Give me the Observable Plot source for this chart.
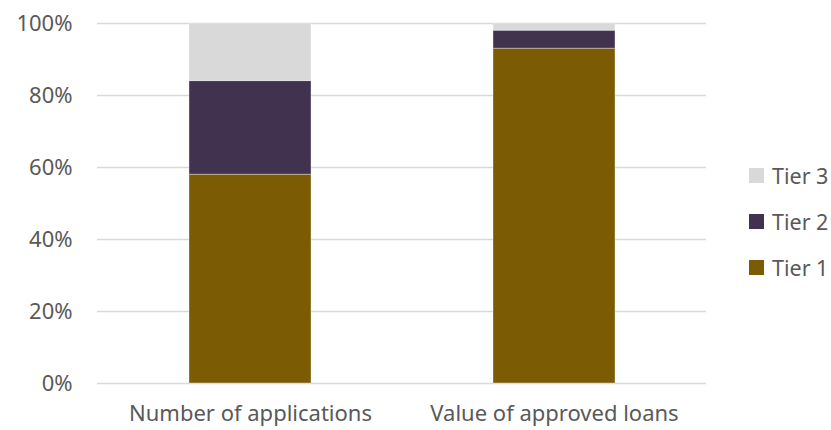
<!DOCTYPE html>
<html>
<head>
<meta charset="utf-8">
<script src="https://cdn.jsdelivr.net/npm/d3@7"></script>
<script src="https://cdn.jsdelivr.net/npm/@observablehq/plot@0.6"></script>
<style>
  html, body { margin: 0; padding: 0; background: #fff; }
  #wrap { position: relative; width: 831px; height: 430px; font-family: "Noto Sans", "Open Sans", sans-serif; }
  #legend { position: absolute; left: 749px; top: 152px; }
  .item { display: flex; align-items: center; height: 46px; font-size: 21.5px; color: #595959; }
  .sw { width: 15px; height: 15px; margin-right: 8px; }
</style>
</head>
<body>
<div id="wrap"></div>
<script>
const categories = ["Number of applications", "Value of approved loans"];
const tiers = ["Tier 1", "Tier 2", "Tier 3"];
const tier1 = [58, 93];
const tier2 = [26, 5];
const tier3 = [16, 2];
const colors = ["#7c5b05", "#413350", "#d9d9d9"];
const yTicks = [0, 20, 40, 60, 80, 100];

const series = [tier1, tier2, tier3];
const data = [];
categories.forEach((c, i) => {
  tiers.forEach((t, j) => data.push({category: c, tier: t, value: series[j][i]}));
});

const chart = Plot.plot({
  width: 831,
  height: 430,
  marginLeft: 97,
  marginRight: 125,
  marginTop: 23,
  marginBottom: 47,
  style: {fontFamily: "'Noto Sans', 'Open Sans', sans-serif", fontSize: "22px", color: "#595959", background: "#fff"},
  x: {domain: categories, label: null, paddingInner: 0.6, paddingOuter: 0.3, tickSize: 0, tickPadding: 22},
  y: {domain: [0, 100], label: null, ticks: yTicks, tickFormat: d => d + "%", tickSize: 0, tickPadding: 25},
  color: {domain: tiers, range: colors},
  marks: [
    Plot.ruleY(yTicks, {stroke: "#d9d9d9", strokeWidth: 1.5}),
    Plot.barY(data, Plot.stackY({x: "category", y: "value", fill: "tier", order: tiers, stroke: "#ffffff", strokeOpacity: 0.35, strokeWidth: 1}))
  ]
});

const wrap = document.getElementById("wrap");
wrap.appendChild(chart);
const legend = document.createElement("div");
legend.id = "legend";
tiers.slice().reverse().forEach(t => {
  const item = document.createElement("div");
  item.className = "item";
  const sw = document.createElement("span");
  sw.className = "sw";
  sw.style.background = colors[tiers.indexOf(t)];
  item.appendChild(sw);
  item.appendChild(document.createTextNode(t));
  legend.appendChild(item);
});
wrap.appendChild(legend);
</script>
</body>
</html>
